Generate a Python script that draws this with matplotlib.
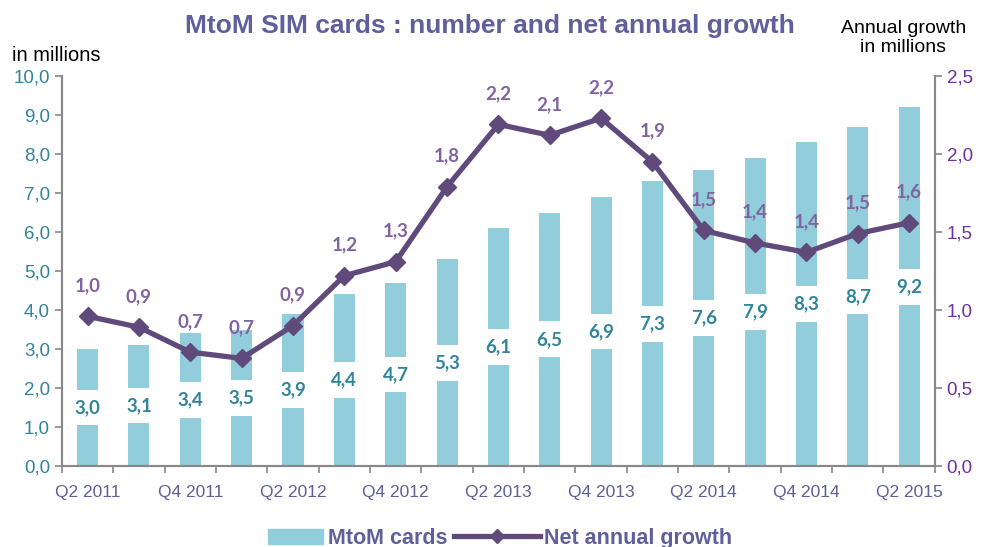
import numpy as np
import matplotlib
matplotlib.use('Agg')
import matplotlib.pyplot as plt
from matplotlib.ticker import FuncFormatter, FixedLocator
from matplotlib.patches import Patch, Rectangle
from matplotlib.lines import Line2D
from matplotlib.legend_handler import HandlerPatch

quarters = ['Q2 2011', 'Q3 2011', 'Q4 2011', 'Q1 2012', 'Q2 2012', 'Q3 2012',
            'Q4 2012', 'Q1 2013', 'Q2 2013', 'Q3 2013', 'Q4 2013', 'Q1 2014',
            'Q2 2014', 'Q3 2014', 'Q4 2014', 'Q1 2015', 'Q2 2015']
cards = [3.0, 3.1, 3.4, 3.5, 3.9, 4.4, 4.7, 5.3, 6.1, 6.5, 6.9, 7.3, 7.6, 7.9, 8.3, 8.7, 9.2]
growth = [0.96, 0.89, 0.73, 0.69, 0.90, 1.22, 1.31, 1.79, 2.19, 2.12, 2.23, 1.95,
          1.51, 1.43, 1.37, 1.49, 1.56]
growth_labels = ['1,0', '0,9', '0,7', '0,7', '0,9', '1,2', '1,3', '1,8', '2,2', '2,1',
                 '2,2', '1,9', '1,5', '1,4', '1,4', '1,5', '1,6']

BAR = '#92CDDC'
LINE = '#604A7B'
TEAL = '#31849B'
PURPLE = '#8064A2'
SLATE = '#5F5F9B'
AXIS = '#888888'

plt.rcParams['font.family'] = ['Liberation Sans', 'DejaVu Sans']


def short_patch(legend, orig_handle, xdescent, ydescent, width, height, fontsize):
    # narrower swatch, right aligned next to the label
    w = width * 0.64
    return Rectangle((width - w - xdescent, -ydescent), w, height)


fig = plt.figure(figsize=(9.83, 5.47), dpi=100)
ax = fig.add_axes([0.063, 0.148, 0.888, 0.713])
ax2 = ax.twinx()

x = np.arange(len(quarters))
ax.bar(x, cards, width=0.41, color=BAR, zorder=1)
for xi, v in zip(x, cards):
    ax.text(xi, v / 2, f'{v:.1f}'.replace('.', ','), ha='center', va='center',
            fontsize=13.5, fontweight='bold', color=TEAL, family='Lato',
            bbox=dict(boxstyle='square,pad=0.5', fc='white', ec='none'), zorder=2)

ax.set_xlim(-0.5, len(quarters) - 0.5)
ax.set_ylim(0, 10)
ax.set_yticks(np.arange(0, 10.01, 1))
ax.yaxis.set_major_formatter(FuncFormatter(lambda v, p: f'{v:.1f}'.replace('.', ',')))
ax.tick_params(axis='y', colors=AXIS, labelcolor=TEAL, labelsize=13.5, length=5, width=1.2)

ax.set_xticks(x[::2])
ax.set_xticklabels(quarters[::2])
ax.xaxis.set_minor_locator(FixedLocator(np.arange(-0.5, len(quarters), 1)))
ax.tick_params(axis='x', which='major', length=0, labelsize=12.5, labelcolor=SLATE, pad=14)
ax.tick_params(axis='x', which='minor', length=5, width=1.2, color=AXIS)

ax2.plot(x, growth, color=LINE, lw=3.8, marker='D', markersize=9, zorder=3)
for xi, v, lab in zip(x, growth, growth_labels):
    ax2.annotate(lab, (xi, v), xytext=(0, 16), textcoords='offset points',
                 ha='center', va='bottom', fontsize=13.5, fontweight='bold',
                 color=PURPLE, family='Lato')
ax2.set_ylim(0, 2.5)
ax2.set_yticks(np.arange(0, 2.51, 0.5))
ax2.yaxis.set_major_formatter(FuncFormatter(lambda v, p: f'{v:.1f}'.replace('.', ',')))
ax2.tick_params(axis='y', colors=AXIS, labelcolor='#7030A0', labelsize=13.5, length=5, width=1.2)

for a in (ax, ax2):
    a.spines['top'].set_visible(False)
    for s in ('left', 'right', 'bottom'):
        a.spines[s].set_color(AXIS)
        a.spines[s].set_linewidth(1.5)

fig.text(0.498, 0.952, 'MtoM SIM cards : number and net annual growth', ha='center',
         va='center', fontsize=19, fontweight='bold', color=SLATE)
fig.text(0.012, 0.898, 'in millions', ha='left', va='center', fontsize=14.5, color='black')
fig.text(0.919, 0.93, 'Annual growth\nin millions', ha='center', va='center',
         fontsize=14, color='black', linespacing=1.15)

handles = [Patch(color=BAR),
           Line2D([0], [0], color=LINE, lw=3.8, marker='D', markersize=7)]
fig.legend(handles, ['MtoM cards', 'Net annual growth'], loc='center',
           bbox_to_anchor=(0.493, 0.016), ncol=2, frameon=False, handlelength=4.0,
           handleheight=0.7, columnspacing=0.3, handletextpad=0.2,
           handler_map={Patch: HandlerPatch(patch_func=short_patch)},
           prop=dict(size=15.5, weight='bold'), labelcolor=SLATE)

fig.savefig('out.png', dpi=100)
